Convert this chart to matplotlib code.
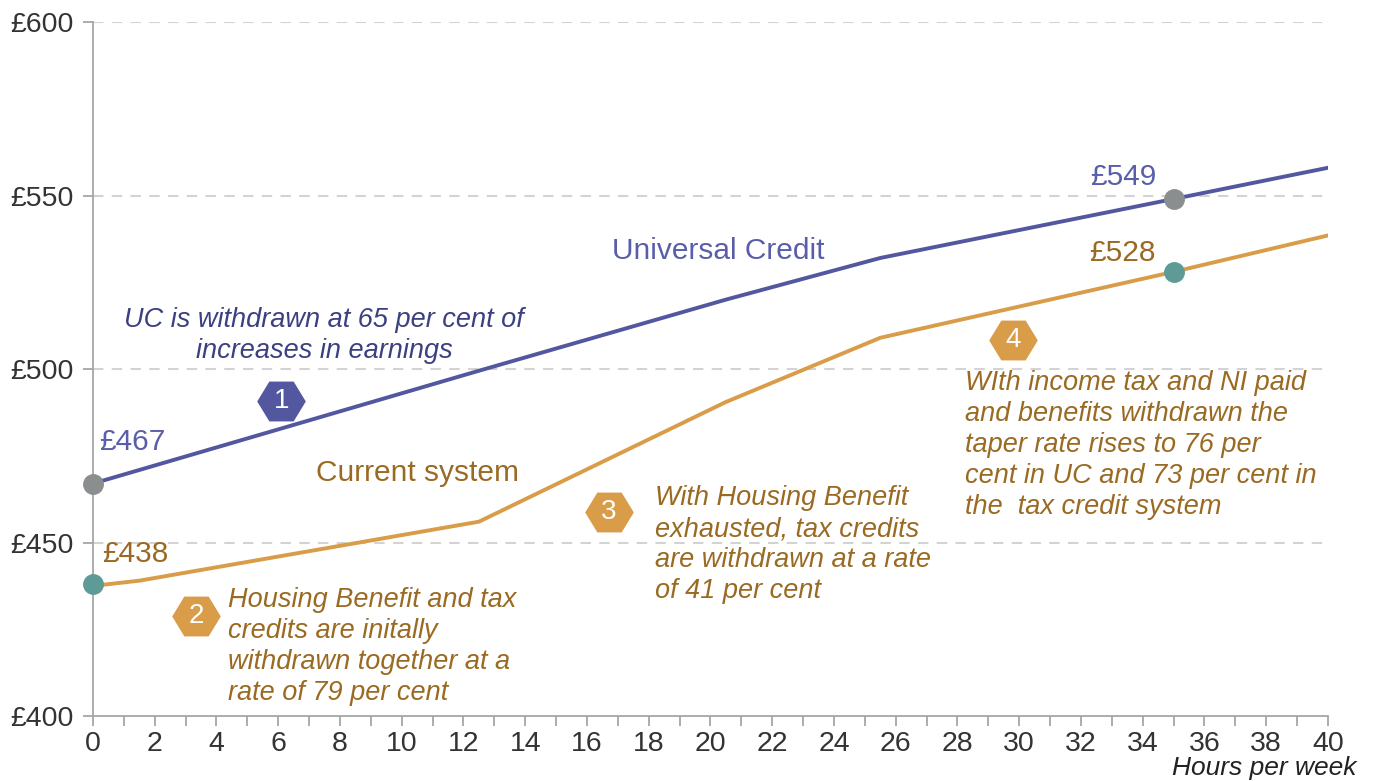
import matplotlib.pyplot as plt
from matplotlib.ticker import MultipleLocator

plt.rcParams["font.family"] = ["Liberation Sans", "DejaVu Sans"]

# data
hours_uc = [0, 12.5, 20.5, 25.5, 35, 40]
uc_income = [467, 499.5, 520, 532, 549, 558]
hours_cur = [0, 1.5, 12.5, 20.5, 25.5, 35, 40]
cur_income = [437.5, 439, 456, 490.5, 509, 528, 538.5]

uc_points_x = [0, 35]
uc_points_y = [467, 549]
cur_points_x = [0, 35]
cur_points_y = [438, 528]

step_labels = ["1", "2", "3", "4"]
step_x = [6.1, 3.35, 16.7, 29.8]
step_y = [490.8, 428.8, 458.8, 508.4]

BLUE = "#5257A0"
BLUE_TXT = "#5A5EA8"
NAVY_TXT = "#3C4080"
ORANGE = "#D99C48"
BROWN = "#9A6A22"
GREY = "#8A8E8E"
TEAL = "#5E9A96"

fig = plt.figure(figsize=(13.73, 7.81), dpi=100)
ax = fig.add_axes([0.0677, 0.0832, 0.8995, 0.8886])

for y in [450, 500, 550, 600]:
    ax.axhline(y, color="#D3D3D3", lw=1.5, ls=(0, (5, 4)), zorder=0)

ax.plot(hours_uc, uc_income, color=BLUE, lw=2.8, zorder=2)
ax.plot(hours_cur, cur_income, color=ORANGE, lw=2.8, zorder=2)
ax.plot(uc_points_x, uc_points_y, "o", color=GREY, ms=14, zorder=4, clip_on=False)
ax.plot(cur_points_x, cur_points_y, "o", color=TEAL, ms=14, zorder=4, clip_on=False)

hexagon = [(-1, 0), (-0.5, 0.82), (0.5, 0.82), (1, 0), (0.5, -0.82), (-0.5, -0.82), (-1, 0)]
for lab, x, y in zip(step_labels, step_x, step_y):
    col = BLUE if lab == "1" else ORANGE
    ax.plot([x], [y], marker=hexagon, ms=35, color=col, mec="none", zorder=5)
    ax.text(x, y, lab, color="white", fontsize=20, ha="center", va="center", zorder=6)

ax.text(0.2, 479, "£467", color=BLUE_TXT, fontsize=21.5, ha="left", va="center")
ax.text(0.3, 446.7, "£438", color=BROWN, fontsize=21.5, ha="left", va="center")
ax.text(34.45, 555.3, "£549", color=BLUE_TXT, fontsize=21.5, ha="right", va="center")
ax.text(34.4, 533.4, "£528", color=BROWN, fontsize=21.5, ha="right", va="center")
ax.text(20.25, 534, "Universal Credit", color=BLUE_TXT, fontsize=21.5, ha="center", va="center")
ax.text(10.5, 470, "Current system", color=BROWN, fontsize=21.5, ha="center", va="center")

note_kw = dict(fontsize=19.5, style="italic", va="center", linespacing=1.25)
ax.text(7.48, 509.8, "UC is withdrawn at 65 per cent of\nincreases in earnings",
        color=NAVY_TXT, ha="center", **note_kw)
ax.text(4.37, 419.9, "Housing Benefit and tax\ncredits are initally\nwithdrawn together at a\nrate of 79 per cent",
        color=BROWN, ha="left", **note_kw)
ax.text(18.2, 449.3, "With Housing Benefit\nexhausted, tax credits\nare withdrawn at a rate\nof 41 per cent",
        color=BROWN, ha="left", **note_kw)
ax.text(28.24, 478.1, "WIth income tax and NI paid\nand benefits withdrawn the\ntaper rate rises to 76 per\ncent in UC and 73 per cent in\nthe  tax credit system",
        color=BROWN, ha="left", **note_kw)

ax.set_xlim(0, 40)
ax.set_ylim(400, 600)
ax.xaxis.set_major_locator(MultipleLocator(2))
ax.xaxis.set_minor_locator(MultipleLocator(1))
ax.set_yticks([400, 450, 500, 550, 600])
ax.set_yticklabels([f"£{v}" for v in [400, 450, 500, 550, 600]])

for side in ["top", "right"]:
    ax.spines[side].set_visible(False)
for side in ["left", "bottom"]:
    ax.spines[side].set_color("#A6A6A6")
    ax.spines[side].set_linewidth(1.3)

ax.tick_params(axis="both", which="both", color="#A6A6A6", width=1.3, length=7,
               labelsize=20.5, labelcolor="#333333")
ax.tick_params(axis="x", pad=4)
ax.tick_params(axis="y", pad=7)

fig.text(0.988, 0.001, "Hours per week", fontsize=19, style="italic", color="#222222",
         ha="right", va="bottom", fontweight="light")

fig.savefig("out.png", dpi=100)
